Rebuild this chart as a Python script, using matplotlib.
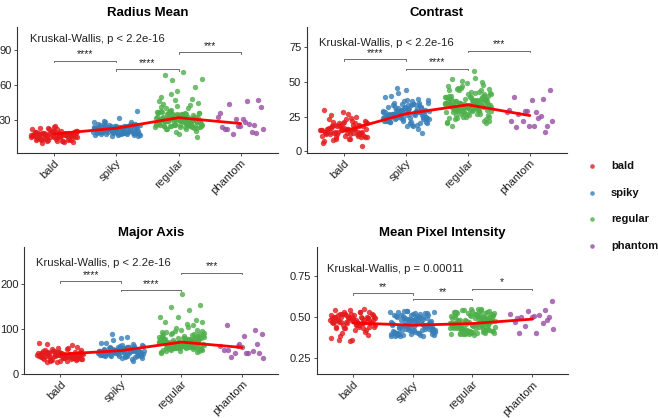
import numpy as np
import matplotlib
matplotlib.use("Agg")
import matplotlib.pyplot as plt
from matplotlib.lines import Line2D

plt.rcParams['font.family'] = ['Liberation Sans', 'DejaVu Sans']

groups = ["bald", "spiky", "regular", "phantom"]
colors = ["#E41A1C", "#377EB8", "#4DAF4A", "#984EA3"]

# ---- Radius Mean ----
radius_bald = [17, 15, 19, 13, 21, 16, 18, 14, 20, 12, 17, 19, 15, 22, 16, 18, 11, 20, 14, 17,
               23, 15, 19, 13, 16, 21, 18, 12, 17, 20, 14, 19, 16, 22, 15, 18, 10, 17, 24, 13,
               19, 16, 21, 15, 18, 14, 20, 17, 12, 19, 16, 25, 15, 18, 13, 21, 17, 14, 19, 16,
               20, 11, 18, 15, 22, 17, 13, 19, 16, 21, 14, 18, 15, 20, 17, 12, 19, 16, 23, 18]
radius_spiky = [22, 20, 24, 18, 26, 21, 23, 19, 25, 17, 22, 27, 20, 24, 16, 23, 21, 28, 19, 22,
                25, 18, 24, 20, 26, 21, 23, 17, 22, 27, 19, 24, 21, 25, 20, 23, 18, 22, 26, 16,
                24, 21, 28, 19, 23, 20, 25, 22, 18, 24, 21, 27, 20, 23, 19, 22, 26, 17, 24, 21,
                25, 20, 23, 29, 19, 22, 24, 18, 26, 21, 23, 20, 25, 22, 17, 24, 21, 27, 19, 23,
                20, 22, 26, 18, 24, 21, 25, 19, 23, 22, 38, 32, 20, 24, 21, 28, 19, 23, 22, 25]
radius_regular = [28, 32, 25, 35, 30, 27, 38, 24, 31, 29, 34, 26, 33, 22, 36, 28, 30, 41, 25, 32,
                  27, 35, 29, 23, 31, 37, 26, 33, 28, 30, 44, 24, 32, 27, 36, 29, 21, 34, 31, 26,
                  39, 28, 33, 25, 30, 47, 27, 35, 29, 32, 24, 37, 28, 31, 26, 34, 22, 30, 42, 27,
                  33, 25, 36, 29, 31, 48, 26, 32, 28, 35, 23, 30, 38, 27, 34, 25, 31, 29, 33, 20,
                  36, 28, 30, 45, 26, 32, 27, 35, 24, 31, 40, 29, 33, 26, 30, 52, 28, 34, 25, 32,
                  27, 37, 29, 31, 15, 18, 50, 43, 64, 65, 71, 69, 58, 55, 46, 40, 38, 36, 35, 33,
                  30, 28, 26, 24, 22, 33, 31, 29, 27, 25]
radius_phantom = [41, 31, 22, 26, 31, 33, 46, 44, 47, 25, 24, 20, 18, 22, 28, 22, 19, 25, 36, 27]
radius_means = [18, 23, 32, 27]

# ---- Contrast ----
contrast_bald = [15, 12, 18, 10, 20, 14, 16, 9, 22, 13, 17, 11, 19, 15, 24, 8, 14, 21, 12, 16,
                 18, 10, 15, 26, 13, 17, 7, 19, 14, 11, 23, 16, 12, 20, 15, 9, 18, 13, 28, 14,
                 17, 10, 21, 16, 12, 19, 15, 6, 22, 13, 18, 11, 16, 25, 14, 20, 9, 17, 12, 15,
                 30, 13, 19, 10, 16, 23, 14, 18, 11, 15, 21, 4, 17, 13, 20, 12, 16, 27, 14, 18]
contrast_spiky = [27, 24, 30, 21, 33, 26, 28, 19, 35, 25, 29, 22, 31, 27, 37, 20, 26, 32, 23, 28,
                  34, 24, 30, 18, 27, 38, 25, 29, 21, 33, 26, 36, 22, 28, 31, 24, 27, 40, 20, 30,
                  25, 34, 23, 29, 26, 32, 19, 28, 35, 24, 27, 31, 22, 39, 26, 29, 25, 33, 21, 28,
                  30, 24, 36, 27, 23, 32, 26, 29, 42, 20, 31, 25, 28, 34, 22, 27, 30, 24, 37, 26,
                  16, 29, 23, 33, 27, 13, 31, 25, 28, 46, 21, 30, 26, 35, 24, 29, 18, 32, 27, 44]
contrast_regular = [33, 30, 37, 27, 40, 32, 35, 25, 43, 31, 36, 28, 39, 34, 45, 23, 32, 38, 29, 34,
                    41, 30, 36, 22, 33, 47, 31, 35, 26, 39, 32, 44, 28, 34, 37, 30, 33, 49, 24, 36,
                    31, 42, 29, 35, 32, 38, 21, 34, 46, 30, 33, 40, 27, 51, 32, 36, 31, 41, 25, 34,
                    37, 30, 45, 33, 28, 39, 32, 35, 53, 24, 38, 31, 34, 43, 27, 33, 37, 30, 48, 32,
                    20, 36, 29, 40, 33, 18, 38, 31, 35, 58, 26, 37, 32, 44, 30, 35, 22, 39, 33, 50,
                    34, 28, 42, 31, 36, 26, 38, 33, 47, 29, 35, 23, 40, 32, 37, 27, 44, 34, 30, 52,
                    33, 25, 39, 31, 36, 20, 41, 34, 29, 46]
contrast_phantom = [44, 37, 39, 38, 29, 28, 28, 27, 18.5, 18.5, 22, 25.7, 22, 22, 18.5, 17.5,
                    13.7, 29, 30, 24]
contrast_means = [14.5, 27, 33.5, 25.7]

# ---- Major Axis ----
major_bald = [42, 38, 46, 34, 50, 40, 44, 31, 53, 37, 45, 35, 48, 41, 56, 29, 39, 47, 36, 43,
              51, 33, 42, 27, 45, 58, 38, 44, 32, 49, 40, 54, 35, 43, 47, 37, 41, 61, 30, 46,
              39, 52, 34, 44, 40, 48, 26, 42, 57, 36, 41, 47, 33, 64, 39, 45, 37, 50, 31, 43,
              46, 38, 55, 42, 35, 49, 40, 44, 70, 28, 47, 38, 43, 52, 34, 41, 46, 36, 66, 40]
major_spiky = [50, 46, 54, 42, 58, 48, 52, 39, 61, 45, 53, 43, 56, 49, 64, 37, 47, 55, 44, 51,
               59, 41, 50, 35, 53, 66, 46, 52, 40, 57, 48, 62, 43, 51, 55, 45, 49, 68, 38, 54,
               47, 60, 42, 52, 48, 56, 33, 50, 63, 44, 49, 55, 41, 70, 47, 53, 45, 58, 39, 51,
               54, 46, 61, 50, 43, 57, 48, 52, 75, 36, 55, 46, 51, 60, 42, 49, 54, 44, 65, 48,
               30, 53, 45, 57, 50, 40, 56, 47, 52, 90, 41, 55, 48, 62, 46, 51, 82, 58, 49, 80]
major_regular = [68, 62, 74, 57, 80, 65, 71, 54, 85, 63, 73, 59, 78, 67, 90, 52, 64, 76, 60, 70,
                 83, 58, 69, 50, 72, 94, 61, 75, 55, 79, 66, 88, 57, 71, 77, 62, 68, 98, 53, 74,
                 64, 86, 59, 72, 66, 81, 48, 70, 92, 60, 67, 78, 56, 102, 65, 73, 62, 84, 51, 69,
                 76, 61, 95, 68, 58, 82, 65, 72, 105, 54, 79, 63, 70, 87, 57, 67, 75, 61, 99, 66,
                 47, 73, 60, 80, 69, 52, 77, 64, 71, 112, 56, 76, 65, 89, 62, 70, 115, 81, 66, 120,
                 126, 127, 142, 150, 153, 179, 116, 108, 96, 91, 74, 63, 58, 69, 85, 77, 64, 55, 72, 93,
                 60, 67, 82, 59, 71, 88, 63, 75, 68, 57]
major_phantom = [90, 85, 109, 98, 62, 62, 46, 38, 46, 60, 53, 51, 47, 35, 46, 53, 67, 66]
major_means = [44, 52, 71, 59]

# ---- Mean Pixel Intensity ----
pixel_bald = [0.48, 0.46, 0.50, 0.44, 0.52, 0.47, 0.49, 0.43, 0.51, 0.45, 0.48, 0.42, 0.50, 0.47,
              0.53, 0.40, 0.46, 0.49, 0.44, 0.48, 0.51, 0.45, 0.47, 0.38, 0.49, 0.54, 0.46, 0.50,
              0.43, 0.52, 0.47, 0.48, 0.41, 0.49, 0.51, 0.45, 0.47, 0.53, 0.36, 0.50, 0.46, 0.52,
              0.44, 0.48, 0.47, 0.50, 0.35, 0.49, 0.53, 0.45, 0.47, 0.51, 0.43, 0.55, 0.46, 0.49,
              0.45, 0.52, 0.39, 0.48, 0.50, 0.46, 0.53, 0.48, 0.42, 0.51, 0.47, 0.49, 0.37, 0.44,
              0.52, 0.46, 0.48, 0.54, 0.43, 0.47, 0.50, 0.45, 0.36, 0.49]
pixel_spiky = [0.452, 0.413, 0.487, 0.391, 0.522, 0.434, 0.468, 0.402, 0.509, 0.441, 0.478, 0.384,
               0.497, 0.425, 0.531, 0.457, 0.396, 0.492, 0.436, 0.449, 0.516, 0.388, 0.472, 0.417,
               0.503, 0.444, 0.538, 0.421, 0.483, 0.381, 0.463, 0.512, 0.405, 0.455, 0.494, 0.428,
               0.409, 0.527, 0.438, 0.474, 0.393, 0.501, 0.419, 0.461, 0.518, 0.399, 0.485, 0.446,
               0.386, 0.507, 0.432, 0.451, 0.489, 0.411, 0.466, 0.535, 0.394, 0.443, 0.498, 0.423,
               0.459, 0.529, 0.403, 0.481, 0.427, 0.454, 0.513, 0.383, 0.476, 0.415, 0.491, 0.439,
               0.521, 0.418, 0.464, 0.389, 0.504, 0.431, 0.479, 0.401, 0.447, 0.533, 0.408, 0.471,
               0.442, 0.511, 0.392, 0.458, 0.422, 0.493, 0.435, 0.524, 0.398, 0.453, 0.486, 0.385,
               0.499, 0.445, 0.469, 0.412]
pixel_regular = [0.462, 0.423, 0.497, 0.401, 0.532, 0.444, 0.478, 0.412, 0.519, 0.451, 0.488, 0.394,
                 0.507, 0.435, 0.541, 0.467, 0.406, 0.502, 0.446, 0.459, 0.526, 0.398, 0.482, 0.427,
                 0.513, 0.454, 0.548, 0.431, 0.493, 0.391, 0.473, 0.522, 0.415, 0.465, 0.504, 0.438,
                 0.419, 0.537, 0.448, 0.484, 0.403, 0.511, 0.429, 0.471, 0.528, 0.409, 0.495, 0.456,
                 0.396, 0.517, 0.442, 0.461, 0.499, 0.421, 0.476, 0.545, 0.404, 0.453, 0.508, 0.433,
                 0.469, 0.539, 0.413, 0.491, 0.437, 0.464, 0.523, 0.393, 0.486, 0.425, 0.501, 0.449,
                 0.531, 0.428, 0.474, 0.399, 0.514, 0.441, 0.489, 0.411, 0.457, 0.543, 0.418, 0.481,
                 0.452, 0.521, 0.402, 0.468, 0.432, 0.503, 0.445, 0.534, 0.408, 0.463, 0.496, 0.395,
                 0.509, 0.455, 0.479, 0.422, 0.466, 0.436, 0.515, 0.426, 0.483, 0.447, 0.527, 0.414,
                 0.472, 0.439, 0.505, 0.397, 0.458, 0.549, 0.443, 0.487, 0.416, 0.475, 0.518, 0.434,
                 0.492, 0.407, 0.461, 0.536, 0.424, 0.477, 0.450, 0.512, 0.405, 0.470]
pixel_phantom = [0.60, 0.504, 0.49, 0.54, 0.535, 0.52, 0.51, 0.50, 0.50, 0.496, 0.47, 0.46,
                 0.443, 0.427, 0.40, 0.40, 0.48]
pixel_means = [0.463, 0.449, 0.459, 0.486]

# significance brackets: (from, to, y, label)
radius_sig = [(1, 2, 81, "****"), (2, 3, 73.5, "****"), (3, 4, 88, "***")]
contrast_sig = [(1, 2, 66.4, "****"), (2, 3, 59.7, "****"), (3, 4, 72.7, "***")]
major_sig = [(1, 2, 207, "****"), (2, 3, 187, "****"), (3, 4, 225, "***")]
pixel_sig = [(1, 2, 0.643, "**"), (2, 3, 0.61, "**"), (3, 4, 0.672, "*")]

panels = [
    dict(title="Radius Mean", data=[radius_bald, radius_spiky, radius_regular, radius_phantom],
         means=radius_means, sig=radius_sig, kw="Kruskal-Wallis, p < 2.2e-16", kw_pos=(0.615, 99.4),
         ylim=(1.7, 109.7), yticks=[30, 60, 90], ylabels=["30", "60", "90"],
         rect=[0.0258, 0.634, 0.3967, 0.301]),
    dict(title="Contrast", data=[contrast_bald, contrast_spiky, contrast_regular, contrast_phantom],
         means=contrast_means, sig=contrast_sig, kw="Kruskal-Wallis, p < 2.2e-16", kw_pos=(0.6, 78.3),
         ylim=(-1.4, 89.7), yticks=[0, 25, 50, 75], ylabels=["0", "25", "50", "75"],
         rect=[0.4663, 0.634, 0.3954, 0.301]),
    dict(title="Major Axis", data=[major_bald, major_spiky, major_regular, major_phantom],
         means=major_means, sig=major_sig, kw="Kruskal-Wallis, p < 2.2e-16", kw_pos=(0.593, 247),
         ylim=(0, 282), yticks=[0, 100, 200], ylabels=["0", "100", "200"],
         rect=[0.0365, 0.1053, 0.3866, 0.3031]),
    dict(title="Mean Pixel Intensity", data=[pixel_bald, pixel_spiky, pixel_regular, pixel_phantom],
         means=pixel_means, sig=pixel_sig, kw="Kruskal-Wallis, p = 0.00011", kw_pos=(0.575, 0.79),
         ylim=(0.148, 0.926), yticks=[0.25, 0.5, 0.75], ylabels=["0.25", "0.50", "0.75"],
         rect=[0.4815, 0.1045, 0.382, 0.3039]),
]

fig = plt.figure(figsize=(6.58, 4.18), dpi=100)
golden = 0.6180339887

for p in panels:
    ax = fig.add_axes(p["rect"])
    xs = np.arange(1, len(groups) + 1)
    for k, (vals, col) in enumerate(zip(p["data"], colors)):
        vals = np.asarray(vals, dtype=float)
        idx = np.arange(len(vals))
        off = (((idx * golden + 0.31 * k) % 1.0) * 2 - 1) * 0.38
        ax.scatter(xs[k] + off, vals, s=15, color=col, alpha=0.8, linewidths=0, zorder=2)
    ax.plot(xs, p["means"], color="#FF0000", lw=2, zorder=3, solid_capstyle="round")

    y0, y1 = p["ylim"]
    tip = (y1 - y0) * 0.012
    for a, b, yv, lab in p["sig"]:
        ax.plot([a, a, b, b], [yv - tip, yv, yv, yv - tip], color="#555555", lw=0.6, zorder=4)
        ax.annotate(lab, (0.5 * (a + b), yv), xytext=(0, 1), textcoords="offset points",
                    ha="center", va="bottom", fontsize=7.5, color="#222222")
    ax.text(p["kw_pos"][0], p["kw_pos"][1], p["kw"], fontsize=8.1, ha="left", va="center",
            color="#222222")

    ax.set_xlim(0.4, 4.6)
    ax.set_ylim(y0, y1)
    ax.set_xticks(xs)
    ax.set_xticklabels(groups, rotation=45, ha="right", rotation_mode="anchor",
                       fontsize=8.2, color="#222222")
    ax.set_yticks(p["yticks"])
    ax.set_yticklabels(p["ylabels"], fontsize=8, color="#222222")
    ax.tick_params(length=2.5, width=0.6, color="#333333", pad=1.5)
    ax.tick_params(axis="x", pad=1.0)
    for s in ["top", "right"]:
        ax.spines[s].set_visible(False)
    for s in ["left", "bottom"]:
        ax.spines[s].set_linewidth(0.8)
        ax.spines[s].set_color("#333333")
    ax.set_title(p["title"], fontsize=9.5, fontweight="bold", pad=8)

# legend, drawn in figure coordinates
leg_x = 591.7 / 658
leg_tx = 611 / 658
leg_y = [1 - 166 / 418, 1 - 193 / 418, 1 - 219 / 418, 1 - 246 / 418]
for g, c, yy in zip(groups, colors, leg_y):
    fig.add_artist(Line2D([leg_x], [yy], transform=fig.transFigure, marker="o", ls="",
                          color=c, alpha=0.8, markersize=3.3, markeredgewidth=0))
    fig.text(leg_tx, yy, g, fontsize=8, fontweight="bold", ha="left", va="center",
             color="#111111")

fig.savefig("out.png", dpi=100)
